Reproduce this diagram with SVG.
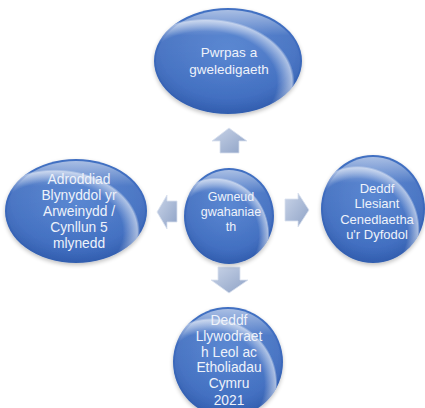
<svg xmlns="http://www.w3.org/2000/svg" width="425" height="408" viewBox="0 0 425 408">
<defs>
<radialGradient id="ball" cx="0.5" cy="0.4" r="0.65">
<stop offset="0" stop-color="#4F7FCF"/>
<stop offset="0.7" stop-color="#3F6DC0"/>
<stop offset="1" stop-color="#2D58A8"/>
</radialGradient>
<linearGradient id="gloss" x1="0" y1="0" x2="0" y2="1">
<stop offset="0" stop-color="#FFFFFF" stop-opacity="0.55"/>
<stop offset="0.25" stop-color="#FFFFFF" stop-opacity="0.08"/>
<stop offset="1" stop-color="#FFFFFF" stop-opacity="0"/>
</linearGradient>
<radialGradient id="rim" cx="0.35" cy="0.7" r="0.6">
<stop offset="0.8" stop-color="#FFFFFF" stop-opacity="0"/>
<stop offset="0.97" stop-color="#FFFFFF" stop-opacity="0.55"/>
<stop offset="1" stop-color="#FFFFFF" stop-opacity="0"/>
</radialGradient>
<linearGradient id="arrow" x1="0" y1="0" x2="1" y2="1">
<stop offset="0" stop-color="#C9D4E8"/>
<stop offset="1" stop-color="#8EA2C6"/>
</linearGradient>
<filter id="sh" x="-20%" y="-20%" width="140%" height="140%">
<feGaussianBlur in="SourceAlpha" stdDeviation="2"/>
<feOffset dy="2"/>
<feComponentTransfer><feFuncA type="linear" slope="0.25"/></feComponentTransfer>
<feMerge><feMergeNode/><feMergeNode in="SourceGraphic"/></feMerge>
</filter>
</defs>
<style>
.ball{fill:url(#ball);filter:url(#sh)}
.gl{fill:url(#gloss)}
.rim{fill:url(#rim)}
.arr{fill:url(#arrow);stroke:#D9E1EF;stroke-width:0.8}
text{font-family:"Liberation Sans",Arial,sans-serif;fill:#EEF2FA;text-anchor:middle}
</style>
<g id="connectors">
<path class="arr" d="M229,128 L247,141 L239,141 L239,153 L220,153 L220,141 L212,141 Z"/>
<path class="arr" d="M218,267 L240,267 L240,280 L248,280 L229,293 L211,280 L218,280 Z"/>
<path class="arr" d="M157,212 L167,195 L167,201 L177,201 L177,222 L167,222 L167,229 Z"/>
<path class="arr" d="M285,199 L298,199 L298,193 L309,210 L298,227 L298,221 L285,221 Z"/>
</g>
<g id="top">
<ellipse class="ball" cx="228" cy="61" rx="74" ry="53"/>
<ellipse class="gl" cx="228" cy="61" rx="72" ry="51"/>
<ellipse class="rim" cx="228" cy="61" rx="74" ry="53"/>
<text font-size="13.5"><tspan x="229" y="57">Pwrpas a</tspan><tspan x="229" y="74">gweledigaeth</tspan></text>
</g>
<g id="center">
<ellipse class="ball" cx="229" cy="216" rx="45" ry="48"/>
<ellipse class="gl" cx="229" cy="216" rx="43" ry="46"/>
<ellipse class="rim" cx="229" cy="216" rx="45" ry="48"/>
<text font-size="12.5"><tspan x="231" y="201">Gwneud</tspan><tspan x="231" y="216">gwahaniae</tspan><tspan x="231" y="231">th</tspan></text>
</g>
<g id="left">
<ellipse class="ball" cx="76" cy="211" rx="71" ry="52"/>
<ellipse class="gl" cx="76" cy="211" rx="69" ry="50"/>
<ellipse class="rim" cx="76" cy="211" rx="71" ry="52"/>
<text font-size="13.8"><tspan x="79" y="184">Adroddiad</tspan><tspan x="79" y="200">Blynyddol yr</tspan><tspan x="79" y="216">Arweinydd /</tspan><tspan x="79" y="232">Cynllun 5</tspan><tspan x="79" y="248">mlynedd</tspan></text>
</g>
<g id="right">
<ellipse class="ball" cx="373" cy="209" rx="52" ry="54"/>
<ellipse class="gl" cx="373" cy="209" rx="50" ry="52"/>
<ellipse class="rim" cx="373" cy="209" rx="52" ry="54"/>
<text font-size="13"><tspan x="377" y="193">Deddf</tspan><tspan x="377" y="208">Llesiant</tspan><tspan x="377" y="224">Cenedlaetha</tspan><tspan x="377" y="239">u'r Dyfodol</tspan></text>
</g>
<g id="bottom">
<ellipse class="ball" cx="228" cy="362" rx="55" ry="55"/>
<ellipse class="gl" cx="228" cy="362" rx="53" ry="53"/>
<ellipse class="rim" cx="228" cy="362" rx="55" ry="55"/>
<text font-size="13.8"><tspan x="229" y="325">Deddf</tspan><tspan x="229" y="341">Llywodraet</tspan><tspan x="229" y="357">h Leol ac</tspan><tspan x="229" y="372">Etholiadau</tspan><tspan x="229" y="388">Cymru</tspan><tspan x="229" y="405">2021</tspan></text>
</g>
</svg>
